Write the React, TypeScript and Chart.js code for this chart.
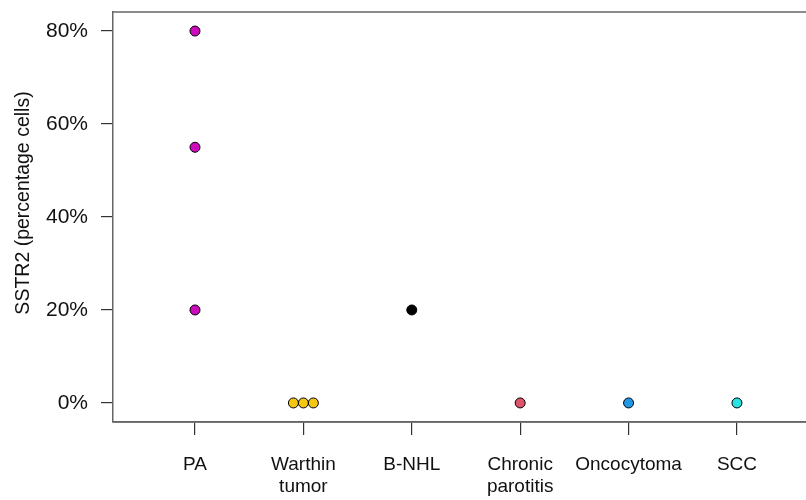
import React, { useEffect, useRef } from "react";
import { Chart, registerables } from "chart.js";

Chart.register(...registerables);

const categories: (string | string[])[] = [
  "PA",
  ["Warthin", "tumor"],
  "B-NHL",
  ["Chronic", "parotitis"],
  "Oncocytoma",
  "SCC",
];
const paValues = [80, 55, 20];
const warthinValues = [0, 0, 0];
const bnhlValues = [20];
const chronicValues = [0];
const oncocytomaValues = [0];
const sccValues = [0];
const groupValues = [paValues, warthinValues, bnhlValues, chronicValues, oncocytomaValues, sccValues];
const groupColors = ["#CD0BBC", "#F5C710", "#000000", "#DF536B", "#2297E6", "#28E2E5"];
const yTickValues = [0, 20, 40, 60, 80];
const yTitle = "SSTR2 (percentage cells)";

const FONT = "'Liberation Sans', Arial, Helvetica, sans-serif";
const STACK = 0.092;

function stackPoints(vals: number[], idx: number) {
  const counts: Record<string, number> = {};
  vals.forEach((v) => (counts[v] = (counts[v] || 0) + 1));
  const seen: Record<string, number> = {};
  return vals.map((v) => {
    const n = counts[v];
    const k = seen[v] || 0;
    seen[v] = k + 1;
    return { x: idx + (k - (n - 1) / 2) * STACK, y: v };
  });
}

const frame = {
  id: "frame",
  afterDraw(chart: any) {
    const { ctx, chartArea } = chart;
    ctx.save();
    ctx.strokeStyle = "#666";
    ctx.lineWidth = 1.5;
    ctx.beginPath();
    ctx.moveTo(chartArea.left, chartArea.top);
    ctx.lineTo(chart.width, chartArea.top);
    ctx.stroke();
    ctx.beginPath();
    ctx.moveTo(chartArea.left, chartArea.bottom);
    ctx.lineTo(chart.width, chartArea.bottom);
    ctx.stroke();
    // y-axis title
    ctx.fillStyle = "#111";
    ctx.font = `19.5px ${FONT}`;
    ctx.textAlign = "center";
    ctx.textBaseline = "middle";
    ctx.translate(24, (chartArea.top + chartArea.bottom) / 2 - 14);
    ctx.rotate(-Math.PI / 2);
    ctx.fillText(yTitle, 0, 0);
    ctx.restore();
  },
};

export default function App() {
  const ref = useRef<HTMLCanvasElement>(null);
  useEffect(() => {
    if (!ref.current) return;
    const datasets = groupValues.map((vals, i) => ({
      label: Array.isArray(categories[i]) ? (categories[i] as string[]).join(" ") : (categories[i] as string),
      data: stackPoints(vals, i),
      backgroundColor: groupColors[i],
      borderColor: "#000",
      borderWidth: 1,
      pointRadius: 5,
      pointHoverRadius: 5,
    }));
    const chart = new Chart(ref.current, {
      type: "scatter",
      data: { datasets },
      plugins: [frame],
      options: {
        animation: false,
        responsive: false,
        maintainAspectRatio: false,
        layout: { padding: { top: 12, left: 0, right: 0, bottom: 0 } },
        plugins: { legend: { display: false }, tooltip: { enabled: false } },
        scales: {
          x: {
            type: "linear",
            min: -0.7565,
            max: 5.637,
            afterBuildTicks: (scale: any) => {
              scale.ticks = categories.map((_, i) => ({ value: i }));
            },
            afterFit: (scale: any) => {
              scale.height = 78;
              scale.paddingLeft = 0;
              scale.paddingRight = 0;
            },
            ticks: {
              autoSkip: false,
              maxRotation: 0,
              padding: 18,
              color: "#111",
              font: { family: FONT, size: 19, lineHeight: 1.2 },
              callback: (v: any) => categories[Math.round(Number(v))] as any,
            },
            grid: { drawOnChartArea: false, drawTicks: true, tickLength: 13, color: "#333", lineWidth: 1.2 },
            border: { display: true, color: "#666", width: 1.5 },
          },
          y: {
            type: "linear",
            min: -4.1,
            max: 84.1,
            afterBuildTicks: (scale: any) => {
              scale.ticks = yTickValues.map((v) => ({ value: v }));
            },
            afterFit: (scale: any) => {
              scale.width = 113;
              scale.paddingTop = 0;
              scale.paddingBottom = 0;
            },
            ticks: {
              padding: 13,
              color: "#111",
              font: { family: FONT, size: 21 },
              callback: (v: any) => `${v}%`,
            },
            grid: { drawOnChartArea: false, drawTicks: true, tickLength: 12, color: "#333", lineWidth: 1.2 },
            border: { display: true, color: "#666", width: 1.5 },
            title: { display: false },
          },
        },
      },
    });
    return () => chart.destroy();
  }, []);
  return (
    <div style={{ position: "fixed", left: 0, top: 0, width: 806, height: 500, overflow: "hidden", background: "#fff" }}>
      <canvas ref={ref} width={812} height={500} style={{ display: "block" }} />
    </div>
  );
}
